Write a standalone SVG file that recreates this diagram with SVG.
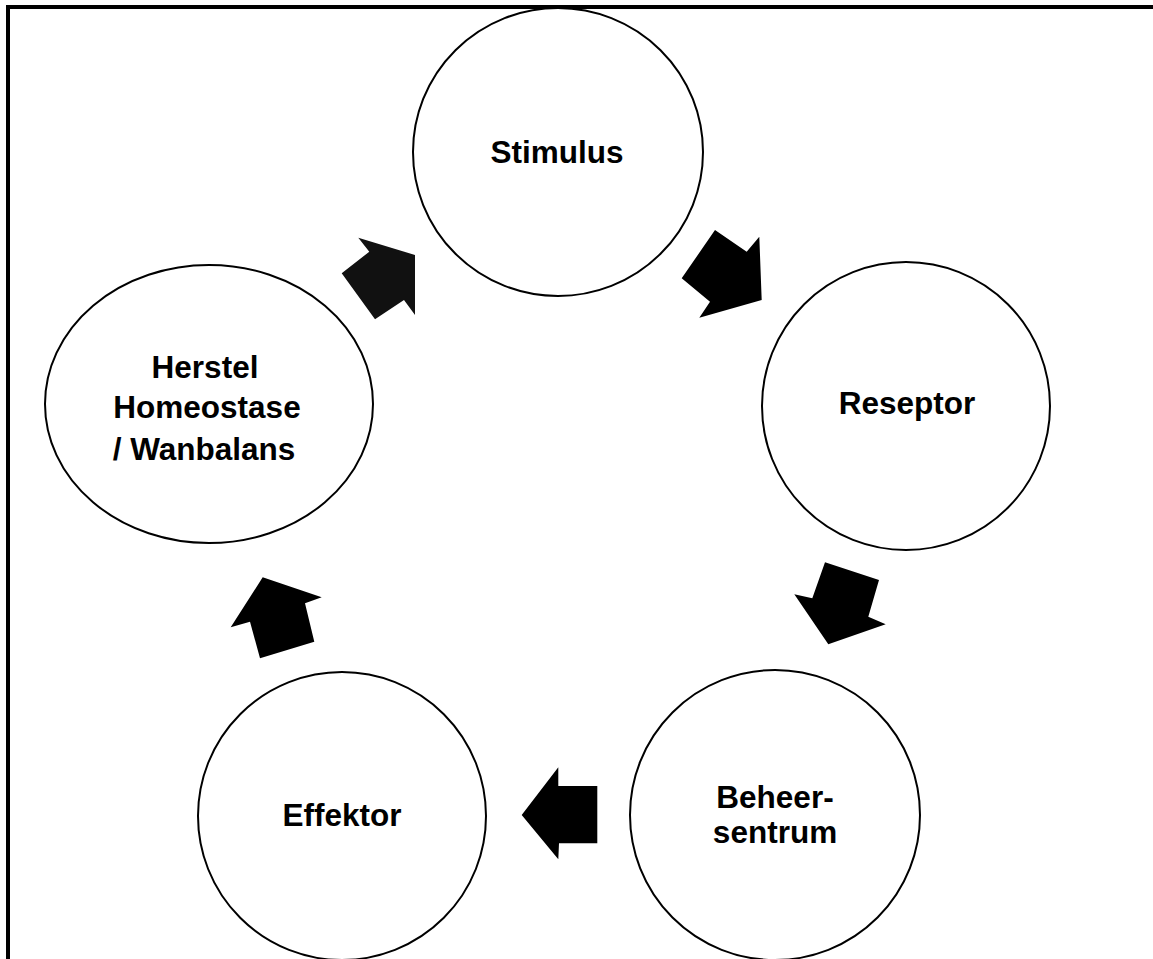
<svg xmlns="http://www.w3.org/2000/svg" width="1153" height="959" viewBox="0 0 1153 959">
<style>
.node{fill:#fff;stroke:#000;stroke-width:2}
.lbl{font-family:"Liberation Sans",Arial,sans-serif;font-weight:bold;font-size:31.5px;fill:#000;text-anchor:middle}
.arr{fill:#000;stroke:none}
</style>
<rect x="0" y="0" width="1153" height="959" fill="#fff"/>
<rect x="8" y="7" width="1200" height="1000" fill="none" stroke="#000" stroke-width="4"/>
<g id="stimulus">
<ellipse class="node" cx="558" cy="152" rx="145" ry="144"/>
<text class="lbl" x="557" y="163">Stimulus</text>
</g>
<g id="reseptor">
<ellipse class="node" cx="906" cy="406" rx="144" ry="144"/>
<text class="lbl" x="907" y="414">Reseptor</text>
</g>
<g id="beheersentrum">
<circle class="node" cx="775" cy="815" r="145"/>
<text class="lbl" x="775" y="808">Beheer-</text>
<text class="lbl" x="775" y="843">sentrum</text>
</g>
<g id="effektor">
<circle class="node" cx="342" cy="816" r="144"/>
<text class="lbl" x="342" y="826">Effektor</text>
</g>
<g id="herstel">
<ellipse class="node" cx="209" cy="404" rx="164" ry="139"/>
<text class="lbl" x="205" y="378">Herstel</text>
<text class="lbl" x="207" y="418">Homeostase</text>
<text class="lbl" x="204" y="460">/ Wanbalans</text>
</g>
<g id="connectors">
<polygon class="arr" style="fill:#111" points="358.3,237.7 415,255 415,315 404,300 375,319.3 341.7,273.3 369.3,251.7"/>
<polygon class="arr" points="715,230 746.7,251.7 759.3,236.7 761.7,300 699.3,317.7 710,301.7 681.7,278.3"/>
<polygon class="arr" points="825,562.3 879,580 868.3,616.7 885.7,624.3 828.3,644.3 794.3,594.3 812.3,598.3"/>
<polygon class="arr" points="558.3,767.3 558.3,786 597.3,786 597.3,843.3 559,843.3 558.3,859.3 521.7,815"/>
<polygon class="arr" points="262.7,577.3 321.7,597.3 305,603.3 314.3,641.7 260,658.3 250,621.7 230.7,627.3"/>
</g>
</svg>
